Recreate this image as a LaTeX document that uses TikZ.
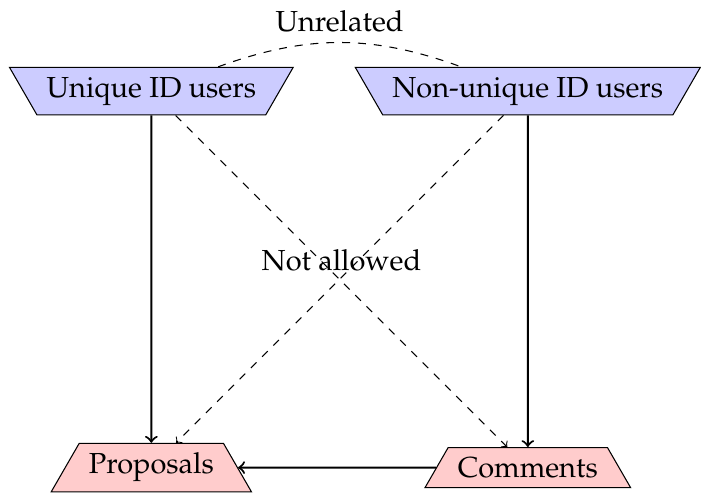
\documentclass[tikz,border=0pt,11pt]{standalone}
\usepackage[T1]{fontenc}
\usepackage{mathpazo}
\usetikzlibrary{shapes.geometric}
\begin{document}
\begin{tikzpicture}[declare function={a=5;},
	usr/.style={trapezium,shape border rotate=180,draw,fill=blue!20},
	obj/.style={trapezium,draw,fill=red!20}]
	\useasboundingbox (-2.01,1.21) rectangle (7.30,-5.33);
	\node[usr] (U) at (0,0) {Unique ID users};
	\node[usr] (N) at (a,0) {Non-unique ID users};
	\node[obj] (P) at (0,-a) {Proposals};
	\node[obj] (C) at (a,-a) {Comments};
	\draw[thick,->] (U)--(P);
	\draw[thick,->] (N)--(C);
	\draw[thick,->] (C)--(P);
	\draw[dashed,->] (U)--node[above]{Not allowed}(C);
	\draw[dashed,->] (N)--(P);
	\draw[dashed] (U) to[bend left=20] node[above]{Unrelated} (N);
\end{tikzpicture}
\end{document}
